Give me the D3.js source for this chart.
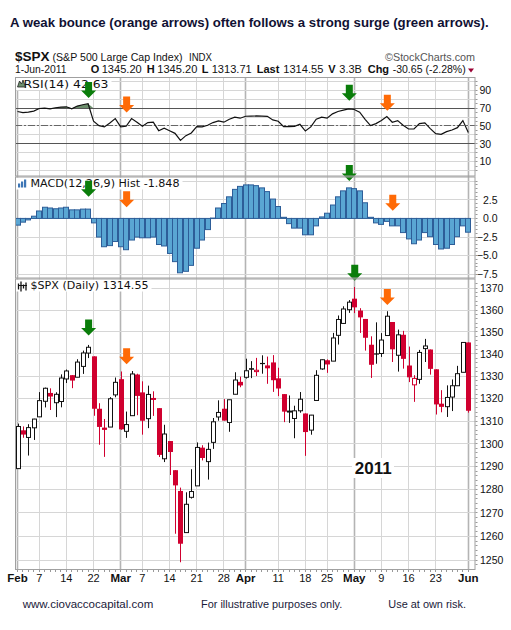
<!DOCTYPE html>
<html><head><meta charset="utf-8">
<script src="https://cdn.jsdelivr.net/npm/d3@7"></script>
<style>body{margin:0;background:#fff}svg{display:block}</style>
</head><body>
<svg id="c" width="511" height="630"></svg>
<script>
// ---------------- DATA ----------------
const dates = [
"2011-02-01","2011-02-02","2011-02-03","2011-02-04","2011-02-07","2011-02-08","2011-02-09","2011-02-10","2011-02-11","2011-02-14","2011-02-15","2011-02-16","2011-02-17","2011-02-18","2011-02-22","2011-02-23","2011-02-24","2011-02-25","2011-02-28",
"2011-03-01","2011-03-02","2011-03-03","2011-03-04","2011-03-07","2011-03-08","2011-03-09","2011-03-10","2011-03-11","2011-03-14","2011-03-15","2011-03-16","2011-03-17","2011-03-18","2011-03-21","2011-03-22","2011-03-23","2011-03-24","2011-03-25","2011-03-28","2011-03-29","2011-03-30","2011-03-31",
"2011-04-01","2011-04-04","2011-04-05","2011-04-06","2011-04-07","2011-04-08","2011-04-11","2011-04-12","2011-04-13","2011-04-14","2011-04-15","2011-04-18","2011-04-19","2011-04-20","2011-04-21","2011-04-25","2011-04-26","2011-04-27","2011-04-28","2011-04-29",
"2011-05-02","2011-05-03","2011-05-04","2011-05-05","2011-05-06","2011-05-09","2011-05-10","2011-05-11","2011-05-12","2011-05-13","2011-05-16","2011-05-17","2011-05-18","2011-05-19","2011-05-20","2011-05-23","2011-05-24","2011-05-25","2011-05-26","2011-05-27","2011-05-31",
"2011-06-01"];
const openP = [1289.14,1305.91,1302.77,1307.01,1311.85,1318.76,1322.48,1318.13,1318.66,1328.73,1330.43,1329.51,1334.37,1340.38,1338.91,1315.44,1307.09,1307.34,1321.61,
1328.64,1305.47,1312.37,1330.73,1322.72,1311.05,1319.92,1315.72,1293.43,1301.19,1288.46,1279.46,1261.61,1276.71,1281.65,1298.29,1292.19,1300.61,1311.80,1315.45,1309.37,1321.89,1327.44,
1329.48,1333.56,1332.03,1335.94,1334.82,1336.16,1329.01,1321.96,1314.03,1311.13,1314.54,1313.35,1305.99,1319.12,1333.23,1337.14,1336.75,1348.43,1353.86,1360.14,
1365.21,1359.76,1355.90,1344.16,1340.24,1340.20,1348.34,1354.51,1339.39,1348.69,1334.77,1326.10,1328.54,1342.40,1342.00,1333.07,1317.70,1316.36,1320.64,1325.69,1331.72,
1345.20];
const highP = [1308.86,1307.61,1308.60,1311.00,1322.85,1324.87,1324.54,1322.78,1330.79,1332.96,1330.43,1337.61,1341.50,1344.07,1338.91,1317.91,1310.91,1320.61,1329.38,
1332.09,1314.19,1332.28,1331.08,1327.68,1325.74,1323.21,1315.72,1308.35,1301.19,1288.46,1280.91,1278.88,1288.88,1300.58,1299.35,1300.51,1311.34,1319.18,1319.74,1319.45,1331.74,1329.77,
1337.85,1336.74,1338.21,1339.38,1338.80,1339.46,1333.77,1321.96,1321.35,1316.79,1322.88,1313.35,1312.70,1332.66,1337.49,1337.55,1349.55,1357.49,1361.71,1364.56,
1370.58,1360.84,1355.90,1348.00,1354.36,1349.44,1359.44,1354.51,1351.05,1350.47,1343.33,1330.42,1341.82,1346.82,1342.00,1333.07,1323.72,1325.86,1328.51,1334.62,1345.20,
1345.20];
const lowP = [1289.14,1302.62,1294.83,1301.67,1311.85,1316.03,1314.89,1311.74,1316.08,1326.90,1324.61,1329.51,1331.00,1338.12,1312.33,1299.55,1294.26,1307.34,1320.55,
1306.14,1302.58,1312.37,1312.59,1303.99,1306.86,1312.27,1294.21,1291.99,1286.37,1261.12,1249.05,1261.61,1276.18,1281.65,1292.70,1284.38,1297.74,1310.15,1310.19,1305.26,1321.89,1325.03,
1328.89,1329.10,1330.03,1331.09,1326.56,1322.94,1321.06,1309.51,1309.19,1302.42,1313.68,1294.70,1303.97,1319.12,1332.83,1331.47,1336.75,1344.25,1353.60,1358.69,
1358.59,1349.52,1341.50,1329.17,1335.58,1338.64,1348.34,1336.36,1332.03,1333.36,1327.32,1318.51,1326.59,1336.36,1330.67,1312.88,1313.87,1311.80,1314.41,1325.69,1331.72,
1313.71];
const closeP = [1307.59,1304.03,1307.10,1310.87,1319.05,1324.57,1320.88,1321.87,1329.15,1332.32,1328.01,1336.32,1340.43,1343.01,1315.44,1307.40,1306.10,1319.88,1327.22,
1306.33,1308.44,1330.97,1321.15,1310.13,1321.82,1320.02,1295.11,1304.28,1296.39,1281.87,1256.88,1273.72,1279.21,1298.38,1293.77,1297.54,1309.66,1313.80,1310.19,1319.44,1328.26,1325.83,
1332.41,1332.87,1332.63,1335.54,1333.51,1328.17,1324.46,1314.16,1314.41,1314.52,1319.68,1305.14,1312.62,1330.36,1337.38,1335.25,1347.24,1355.66,1360.48,1363.61,
1361.22,1356.62,1347.32,1335.10,1340.20,1346.29,1357.16,1342.08,1348.65,1337.77,1329.47,1328.98,1340.68,1343.60,1333.27,1317.37,1316.28,1320.47,1325.69,1331.10,1345.20,
1314.55];
const closeBeforeFirst = 1286.12;

const rsiValues = [66.2,65,65.5,66.6,69.6,70,69.2,70.4,71.1,71.5,69.2,72.3,73.8,74.9,
55.3,50.4,48.9,53.4,58.3,48.9,49.6,
58.3,54.2,49.6,53.8,54.2,44.7,47.4,44.7,41.7,
33.8,39.1,42.1,49.2,48.9,50.8,53.8,55.7,54.2,57.5,
59.8,58.7,60.9,61,61.2,61,60.8,56.8,55.3,49.2,
49.2,49.6,51.9,44.3,48.9,57.5,59.8,58.7,63.6,66.2,
67.7,69.2,68.5,65.5,57.5,50.4,52.6,56,60.6,54.2,
56,50.8,46.6,46.6,52.6,53.4,47,41.3,40.6,43.6,
45.5,48.1,56,42.63];

const macdHist = [-0.9,-0.5,-0.2,0.3,1.0,1.5,1.4,1.3,1.4,1.5,1.15,1.15,1.25,1.25,
-0.6,-2.5,-3.8,-3.65,-3.1,-3.8,-4.2,
-2.9,-2.5,-2.6,-2.6,-2.5,-3.5,-3.7,-4.7,-5.8,
-7.3,-7.1,-6.3,-4.0,-2.9,-1.5,0.05,1.4,2.0,2.9,
3.9,4.3,4.5,4.5,4.4,4.1,3.6,2.6,1.6,0.15,
-0.7,-1.3,-1.3,-2.2,-2.2,-1.0,0.2,0.7,1.8,2.9,
3.7,4.1,4.0,3.7,2.1,0.15,-0.6,-0.8,-0.4,-1.0,
-1.0,-1.9,-2.75,-3.4,-2.9,-1.9,-2.45,-3.5,-4.1,-4.0,
-3.5,-2.45,-1.0,-1.848];

const priceTicks = [1250,1260,1270,1280,1290,1300,1310,1320,1330,1340,1350,1360,1370];
const rsiTicks = [10,30,50,70,90];
const rsiGrid = [0,10,20,30,40,50,60,70,80,90,100];
const macdTicks = [-7.5,-5.0,-2.5,0.0,2.5];
const macdGrid = [-7.5,-5.0,-2.5,0.0,2.5,5.0];

const xTickDates = ["2011-02-01","2011-02-07","2011-02-14","2011-02-22","2011-03-01","2011-03-07","2011-03-14","2011-03-21","2011-03-28","2011-04-01","2011-04-11","2011-04-18","2011-04-25","2011-05-02","2011-05-09","2011-05-16","2011-05-23","2011-06-01"];
const xTickLabels = ["Feb","7","14","22","Mar","7","14","21","28","Apr","11","18","25","May","9","16","23","Jun"];
const xTickIsMonth = [1,0,0,0,1,0,0,0,0,1,0,0,0,1,0,0,0,1];

const arrowPanel = ["rsi","rsi","rsi","rsi","macd","macd","macd","macd","price","price","price","price"];
const arrowDate  = ["2011-02-18","2011-03-02","2011-04-29","2011-05-10","2011-02-18","2011-03-02","2011-04-29","2011-05-11","2011-02-18","2011-03-02","2011-05-02","2011-05-10"];
const arrowValue = [81.3,65.2,78.3,67.0, 2.91,1.49,5.02,1.03, 1348.3,1335.3,1373.5,1362.3];
const arrowColor = ["g","o","g","o","g","o","g","o","g","o","g","o"];

// ---------------- LAYOUT ----------------
const svg = d3.select("#c");
const L = 15, R = 475.5;
const P = {rsi:[77,176.5], macd:[176.5,278.5], price:[278.5,570]};
const n = dates.length;
const x = d3.scaleLinear().domain([0, n-1]).range([17.5, 468.3]);
const yP = d3.scaleLog().domain([1250,1370]).range([560,288.3]);
const yR = d3.scaleLinear().domain([10,90]).range([161.6,90.3]);
const yM = d3.scaleLinear().domain([-7.5,2.5]).range([274.3,199.8]);
const yOf = {rsi:yR, macd:yM, price:yP};
const crisp = v => Math.round(v - 0.5) + 0.5;
const RED = "#d0002f";
const GRID = "#d6d6d6", MONTH = "#b4b4b4";

svg.append("rect").attr("width",511).attr("height",630).attr("fill","#fff");

const defs = svg.append("defs");
Object.keys(P).forEach(k => {
  defs.append("clipPath").attr("id","clip-"+k).append("rect")
    .attr("x",L).attr("y",P[k][0]).attr("width",R-L).attr("height",P[k][1]-P[k][0]);
});

// ---- title & header
const fit = (sel, w) => sel.attr("textLength", w).attr("lengthAdjust","spacingAndGlyphs");
// title: scale the font size so the natural width equals the target width
const title = svg.append("text").attr("x",10).attr("y",26.5).attr("font-family","Liberation Sans, Arial")
  .attr("font-weight","bold").attr("font-size",15).attr("fill","#111133")
  .text("A weak bounce (orange arrows) often follows a strong surge (green arrows).");
{
  const w0 = title.node().getComputedTextLength();
  if (w0 > 0) title.attr("font-size", Math.min(15.5, 15 * 479 / w0));
}

svg.append("text").attr("x",15).attr("y",60.5).attr("font-family","Liberation Sans, Arial").attr("font-weight","bold").attr("font-size",13.5).attr("fill","#111").text("$SPX");
fit(svg.append("text").attr("x",52.5).attr("y",60.5).attr("font-family","Liberation Sans, Arial").attr("font-size",11).attr("fill","#111").text("(S&P 500 Large Cap Index)"),130);
fit(svg.append("text").attr("x",189).attr("y",60.5).attr("font-family","Liberation Sans, Arial").attr("font-size",10).attr("fill","#111").text("INDX"),23);
fit(svg.append("text").attr("x",385).attr("y",60.5).attr("font-family","Liberation Sans, Arial").attr("font-size",11).attr("fill","#555").text("\u00A9StockCharts.com"),90);

const row2 = [
 ["1-Jun-2011",15,false,51.5],["O",90.7,true,0],["1345.20",101.7,false,40],["H",146.7,true,0],["1345.20",157.3,false,40],
 ["L",201.7,true,0],["1313.71",211.7,false,40],["Last",256.7,true,0],["1314.55",283.3,false,40],["V",328.3,true,0],
 ["3.3B",339.3,false,22.5],["Chg",367.7,true,0],["-30.65 (-2.28%)",392.7,false,73]];
row2.forEach(([t,xx,b,w]) => {
  const s = svg.append("text").attr("x",xx).attr("y",72.5).attr("font-family","Liberation Sans, Arial")
    .attr("font-size",11).attr("font-weight",b?"bold":"normal").attr("fill","#111").text(t);
  if (w) fit(s,w);
});
svg.append("path").attr("d","M468,68.5 L474,68.5 L471,72.5 Z").attr("fill","#990033");

// ---- vertical grid lines (all panels)
const gridG = svg.append("g");
xTickDates.forEach((d,k) => {
  const xx = crisp(x(dates.indexOf(d)));
  gridG.append("line").attr("x1",xx).attr("x2",xx).attr("y1",P.rsi[0]).attr("y2",P.price[1])
    .attr("stroke", xTickIsMonth[k] ? MONTH : GRID).attr("stroke-width", xTickIsMonth[k] ? 1.6 : 1);
});
// ---- horizontal grid
rsiGrid.forEach(v => { const yy = crisp(yR(v)); if (yy>P.rsi[0] && yy<P.rsi[1])
  gridG.append("line").attr("x1",L).attr("x2",R).attr("y1",yy).attr("y2",yy).attr("stroke",GRID); });
macdGrid.forEach(v => { const yy = crisp(yM(v)); if (yy>P.macd[0] && yy<P.macd[1])
  gridG.append("line").attr("x1",L).attr("x2",R).attr("y1",yy).attr("y2",yy).attr("stroke",GRID); });
priceTicks.forEach(v => { const yy = crisp(yP(v));
  gridG.append("line").attr("x1",L).attr("x2",R).attr("y1",yy).attr("y2",yy).attr("stroke",GRID); });

// ---- RSI panel
const rsiG = svg.append("g").attr("clip-path","url(#clip-rsi)");
const rsiArea = d3.area().x((d,i)=>x(i)).y0(yR(70)).y1(d=>yR(Math.max(70,d)));
rsiG.append("path").datum(rsiValues).attr("d",rsiArea).attr("fill","#6d8f6d");
[70,30].forEach(v => rsiG.append("line").attr("x1",L).attr("x2",R).attr("y1",crisp(yR(v))).attr("y2",crisp(yR(v))).attr("stroke","#555"));
rsiG.append("line").attr("x1",L).attr("x2",R).attr("y1",crisp(yR(50))).attr("y2",crisp(yR(50))).attr("stroke","#666").attr("stroke-dasharray","7,2,2,2");
rsiG.append("path").datum(rsiValues).attr("d",d3.line().x((d,i)=>x(i)).y(d=>yR(d)))
  .attr("fill","none").attr("stroke","#111").attr("stroke-width",1.2);

// ---- MACD panel
const macdG = svg.append("g").attr("clip-path","url(#clip-macd)");
macdG.selectAll("rect").data(macdHist).join("rect")
  .attr("x",(d,i)=>Math.round(x(i))-2.5).attr("width",5)
  .attr("y",d=>Math.min(yM(d),yM(0))).attr("height",d=>Math.max(0.5,Math.abs(yM(d)-yM(0))))
  .attr("fill","#5aa6d3").attr("stroke","#2d5d98").attr("stroke-width",1);

// ---- Price panel
const priceG = svg.append("g").attr("clip-path","url(#clip-price)");
const candles = dates.map((d,i)=>({i,o:openP[i],h:highP[i],l:lowP[i],c:closeP[i],pc:i?closeP[i-1]:closeBeforeFirst}));
candles.forEach(c => {
  const col = c.c < c.pc ? RED : "#111";
  const cx = Math.round(x(c.i)) + 0.5;
  priceG.append("line").attr("x1",cx).attr("x2",cx).attr("y1",yP(c.h)).attr("y2",yP(c.l)).attr("stroke",col).attr("stroke-width",1);
  const top = yP(Math.max(c.o,c.c)), bot = yP(Math.min(c.o,c.c));
  if (c.c >= c.o) {
    priceG.append("rect").attr("x",cx-2).attr("width",4).attr("y",top).attr("height",Math.max(1,bot-top))
      .attr("fill","#fff").attr("stroke",col).attr("stroke-width",1);
  } else {
    priceG.append("rect").attr("x",cx-2.5).attr("width",5).attr("y",top).attr("height",Math.max(1.2,bot-top)).attr("fill",col);
  }
});

// "2011" label
svg.append("rect").attr("x",352).attr("y",458).attr("width",42).attr("height",20).attr("fill","#fff");
svg.append("text").attr("x",373.3).attr("y",474.3).attr("text-anchor","middle").attr("font-family","Liberation Sans, Arial")
  .attr("font-weight","bold").attr("font-size",17).attr("fill","#111").text("2011");

// ---- panel labels
const labelFont = "DejaVu Sans, Verdana";
function panelLabel(y0, txt, x0, w, icon) {
  svg.append("rect").attr("x",L+1).attr("y",y0+1).attr("width",x0+w-L+2).attr("height",12).attr("fill","#fff");
  fit(svg.append("text").attr("x",x0).attr("y",y0+10.5).attr("font-family",labelFont).attr("font-size",10.5).attr("fill","#111").text(txt), w);
  icon(y0);
}
panelLabel(P.rsi[0], "RSI(14) 42.63", 23.5, 85, y0 => {
  svg.append("path").attr("d",`M17.5,${y0+10} L19.5,${y0+4} L21.5,${y0+7} L23,${y0+3} L25.5,${y0+10} Z`).attr("fill","#6d8f6d").attr("stroke","#222").attr("stroke-width",0.8);
});
panelLabel(P.macd[0], "MACD(12,26,9) Hist -1.848", 30.5, 149, y0 => {
  [[18,5],[21,3],[24,1]].forEach(([bx,by]) => svg.append("rect").attr("x",bx).attr("y",y0+by+2).attr("width",2.2).attr("height",10-by-1).attr("fill","#3d76b5"));
});
panelLabel(P.price[0], "$SPX (Daily) 1314.55", 30.5, 118, y0 => {
  [[18.5,4,9],[21,2,11],[23.5,5,8],[26,3,10]].forEach(([bx,a,b]) => {
    svg.append("line").attr("x1",bx).attr("x2",bx).attr("y1",y0+a+1).attr("y2",y0+b+2).attr("stroke","#111").attr("stroke-width",1.3);
  });
  svg.append("line").attr("x1",18).attr("x2",27).attr("y1",y0+7).attr("y2",y0+7).attr("stroke","#111").attr("stroke-width",1);
});

// ---- arrows
function arrow(cx, tip, col) {
  const Wd=15, sw=7, Ht=16, hh=7.5;
  const fill = col==="g" ? "#0a7d0a" : "#ff6a06";
  svg.append("path").attr("d",
    `M${cx-sw/2},${tip-Ht} L${cx+sw/2},${tip-Ht} L${cx+sw/2},${tip-hh} L${cx+Wd/2},${tip-hh} L${cx},${tip} L${cx-Wd/2},${tip-hh} L${cx-sw/2},${tip-hh} Z`)
    .attr("fill",fill);
}
arrowPanel.forEach((p,k) => arrow(x(dates.indexOf(arrowDate[k]))+0.5, yOf[p](arrowValue[k]), arrowColor[k]));

// ---- frames
Object.keys(P).forEach(k => {
  svg.append("rect").attr("x",L+0.5).attr("y",P[k][0]+0.5).attr("width",R-L-1).attr("height",P[k][1]-P[k][0]-1)
    .attr("fill","none").attr("stroke","#a0a0a0");
});

// ---- right axes
const axFont = "Liberation Sans, Arial";
priceTicks.forEach(v => svg.append("text").attr("x",480).attr("y",yP(v)).attr("dy","0.36em").attr("font-family",axFont).attr("font-size",10.5).attr("fill","#111").text(v));
rsiTicks.forEach(v => svg.append("text").attr("x",479.5).attr("y",yR(v)).attr("dy","0.36em").attr("font-family",axFont).attr("font-size",10.5).attr("fill","#111").text(v));
macdTicks.forEach(v => svg.append("text").attr("x",497.5).attr("y",yM(v)).attr("dy","0.36em").attr("text-anchor","end").attr("font-family",axFont).attr("font-size",10.5).attr("fill","#111").text(d3.format(".1f")(v)));
// minor ticks on right axis
d3.range(1246,1374,2).forEach(v => { const yy=yP(v); if (yy>P.price[0]+1 && yy<P.price[1]-1)
  svg.append("line").attr("x1",R).attr("x2",R+2).attr("y1",crisp(yy)).attr("y2",crisp(yy)).attr("stroke","#999"); });
d3.range(0,101,5).forEach(v => { const yy=yR(v); if (yy>P.rsi[0]+1 && yy<P.rsi[1]-1)
  svg.append("line").attr("x1",R).attr("x2",R+2).attr("y1",crisp(yy)).attr("y2",crisp(yy)).attr("stroke","#999"); });
d3.range(-8,5.6,0.5).forEach(v => { const yy=yM(v); if (yy>P.macd[0]+1 && yy<P.macd[1]-1)
  svg.append("line").attr("x1",R).attr("x2",R+2).attr("y1",crisp(yy)).attr("y2",crisp(yy)).attr("stroke","#999"); });
// daily minor ticks on bottom axis
dates.forEach((d,i) => svg.append("line").attr("x1",crisp(x(i))).attr("x2",crisp(x(i))).attr("y1",P.price[1]).attr("y2",P.price[1]+2).attr("stroke","#999"));

// ---- bottom axis labels
xTickDates.forEach((d,k) => {
  svg.append("text").attr("x",x(dates.indexOf(d))).attr("y",582).attr("text-anchor","middle")
    .attr("font-family",axFont).attr("font-size",xTickIsMonth[k]?11.5:11).attr("font-weight",xTickIsMonth[k]?"bold":"normal")
    .attr("fill","#111").text(xTickLabels[k]);
});

// ---- footer
const foot = [["www.ciovaccocapital.com",22.7,130.6],["For illustrative purposes only.",201,141.3],["Use at own risk.",388.3,77.7]];
foot.forEach(([t,xx,w]) => fit(svg.append("text").attr("x",xx).attr("y",608).attr("font-family",axFont).attr("font-size",11).attr("fill","#1a1a3a").text(t), w));
</script>
</body></html>
